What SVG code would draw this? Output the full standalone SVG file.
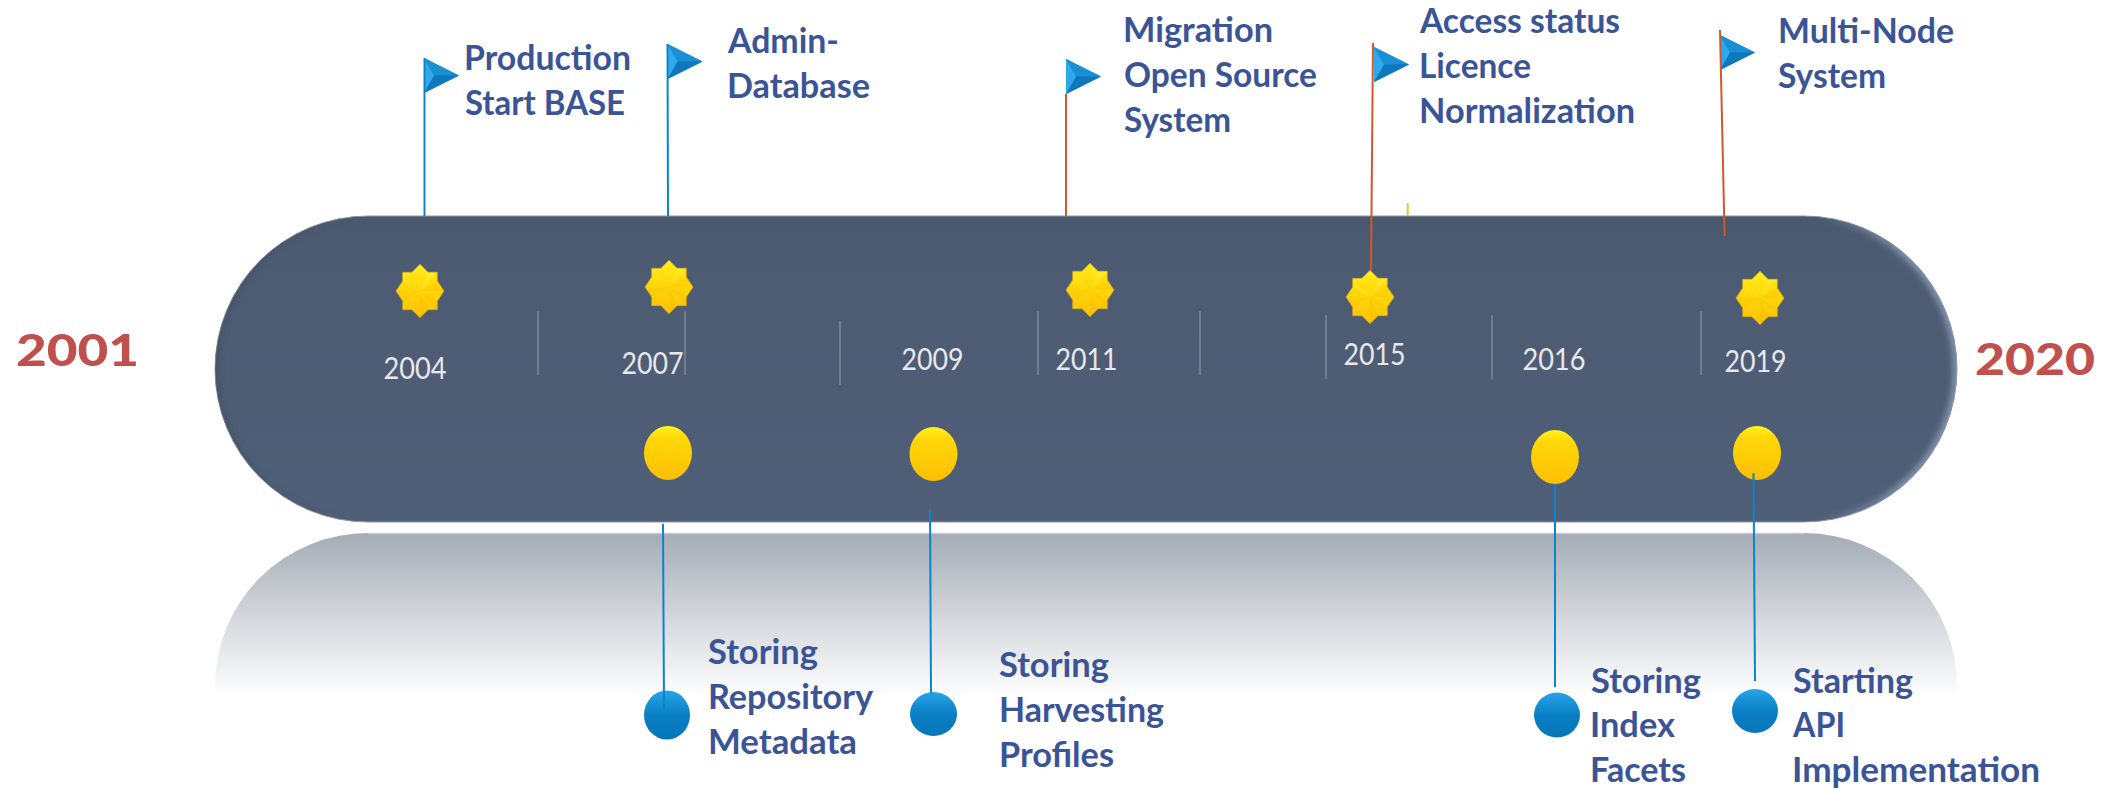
<svg xmlns="http://www.w3.org/2000/svg" width="2111" height="791" viewBox="0 0 2111 791">
<style>
.lbl{font-family:"Lato","Liberation Sans",sans-serif;font-weight:700;font-size:34px;fill:#3b5496}
.yr{font-family:"Lato","Liberation Sans",sans-serif;font-size:31px;fill:#e6e8eb}
.end{font-family:"Lato","Liberation Sans",sans-serif;font-weight:900;font-size:44px;fill:#c0504d}
.div{stroke:#7f8b9d;stroke-width:1.4;fill:none}
.blue{stroke:#0b84cc;stroke-width:2;fill:none}
.org{stroke:#d0582a;stroke-width:2;fill:none}
</style>
<defs>
<linearGradient id="pillG" x1="0" y1="0" x2="0" y2="1"><stop offset="0" stop-color="#4a586e"/><stop offset=".12" stop-color="#4d5b72"/><stop offset="1" stop-color="#4f5f77"/></linearGradient>
<linearGradient id="edgeG" gradientUnits="userSpaceOnUse" x1="215" y1="0" x2="1957" y2="0"><stop offset="0" stop-color="#3c495c" stop-opacity=".55"/><stop offset=".08" stop-color="#3c495c" stop-opacity="0"/><stop offset=".92" stop-color="#8a9bb5" stop-opacity="0"/><stop offset=".97" stop-color="#8a9bb5"/><stop offset="1" stop-color="#8a9bb5"/></linearGradient>
<filter id="soft" x="-5%" y="-5%" width="110%" height="110%"><feGaussianBlur stdDeviation="3"/></filter>
<clipPath id="pillClip"><rect x="215" y="216" width="1742" height="306" rx="153" ry="153"/></clipPath>
<linearGradient id="reflG" x1="0" y1="0" x2="0" y2="1"><stop offset="0" stop-color="#a5acb6"/><stop offset="1" stop-color="#ffffff"/></linearGradient>
<linearGradient id="ovalY" x1="0" y1="0" x2="0" y2="1"><stop offset="0" stop-color="#fff21f"/><stop offset=".22" stop-color="#ffd708"/><stop offset="1" stop-color="#fdbf04"/></linearGradient>
<linearGradient id="ovalB" x1="0" y1="0" x2="0" y2="1"><stop offset="0" stop-color="#27a5ea"/><stop offset=".5" stop-color="#0a7fc4"/><stop offset="1" stop-color="#0676b8"/></linearGradient>
<linearGradient id="starG" x1="0" y1="0" x2="0" y2="1"><stop offset="0" stop-color="#fff21f"/><stop offset=".3" stop-color="#ffdc0a"/><stop offset="1" stop-color="#fec205"/></linearGradient>
<g id="star">
<polygon points="0,-26.7 8,-18.7 17.3,-18.7 17.3,-10 24,0 17.3,10 17.3,18.7 8,18.7 0,26.7 -8,18.7 -17.3,18.7 -17.3,10 -24,0 -17.3,-10 -17.3,-18.7 -8,-18.7" fill="url(#starG)" stroke="#d2aa18" stroke-width=".7"/>
<polygon points="0,0 17.3,-18.7 8,-18.7" fill="#fff45a" opacity=".3"/>
<polygon points="0,0 -17.3,-18.7 -17.3,-10" fill="#fff45a" opacity=".2"/>
<polygon points="0,0 24,0 17.3,-10" fill="#f0aa00" opacity=".15"/>
<polygon points="0,0 0,26.7 8,18.7" fill="#f0aa00" opacity=".18"/>
<polygon points="0,0 -24,0 -17.3,10" fill="#f0aa00" opacity=".12"/>
<polygon points="0,0 17.3,18.7 17.3,10" fill="#f7b900" opacity=".2"/>
</g>
<g id="flag">
<polygon points="0,0 35,17.5 0,35" fill="#0f7fc4"/>
<polygon points="0,0 35,17.5 10,17.5" fill="#1a90d4"/>
<polygon points="0,35 35,17.5 10,17.5" fill="#0e78ba"/>
<polygon points="0,0 10,17.5 0,35" fill="#2fa8ec"/>
</g>
</defs>

<g id="reflection"><path d="M215,697 V686 A153,153 0 0 1 368,533 H1804 A153,153 0 0 1 1957,686 V697 Z" fill="url(#reflG)"/><path d="M368,533.5 H1804" stroke="#c6c9cd" stroke-width="1.5"/></g>
<g id="timeline-bar"><rect x="215" y="216" width="1742" height="306" rx="153" ry="153" fill="url(#pillG)" stroke="#8e949d" stroke-width="1"/>
<g clip-path="url(#pillClip)"><rect x="215" y="216" width="1742" height="306" rx="153" ry="153" fill="none" stroke="url(#edgeG)" stroke-width="7" filter="url(#soft)"/></g></g>

<g id="dividers">
<path class="div" d="M538,311V375M685,311V375M840,321V385M1038,311V375M1200,311V375M1326,315V379M1492,315V379M1701,311V375"/>
</g>

<g id="start-year"><text class="end" x="16" y="366" textLength="123" lengthAdjust="spacingAndGlyphs">2001</text></g>
<g id="end-year"><text class="end" x="1975" y="375" textLength="120" lengthAdjust="spacingAndGlyphs">2020</text></g>

<g id="y2004"><use href="#star" x="420" y="291"/><text class="yr" x="383.5" y="379" textLength="63" lengthAdjust="spacingAndGlyphs">2004</text></g>
<g id="y2007"><use href="#star" x="669" y="287"/><text class="yr" x="621.5" y="374" textLength="62" lengthAdjust="spacingAndGlyphs">2007</text></g>
<g id="y2009"><text class="yr" x="901.5" y="370" textLength="62" lengthAdjust="spacingAndGlyphs">2009</text></g>
<g id="y2011"><use href="#star" x="1090" y="290"/><text class="yr" x="1055.5" y="370" textLength="62" lengthAdjust="spacingAndGlyphs">2011</text></g>
<g id="y2015"><use href="#star" x="1370" y="297"/><text class="yr" x="1343.5" y="365" textLength="62" lengthAdjust="spacingAndGlyphs">2015</text></g>
<g id="y2016"><text class="yr" x="1522.5" y="370" textLength="63" lengthAdjust="spacingAndGlyphs">2016</text></g>
<g id="y2019"><use href="#star" x="1760" y="298"/><text class="yr" x="1724.5" y="372" textLength="62" lengthAdjust="spacingAndGlyphs">2019</text></g>

<g id="dot-2007"><ellipse cx="668" cy="453" rx="24" ry="27" fill="url(#ovalY)"/></g>
<g id="dot-2009"><ellipse cx="933.5" cy="454" rx="24" ry="27" fill="url(#ovalY)"/></g>
<g id="dot-2016"><ellipse cx="1555" cy="457" rx="24" ry="27" fill="url(#ovalY)"/></g>
<g id="dot-2019"><ellipse cx="1757" cy="453" rx="24" ry="27" fill="url(#ovalY)"/></g>

<g id="note-repository"><ellipse cx="667" cy="715" rx="23" ry="24.5" fill="url(#ovalB)"/>
<text class="lbl" x="708" y="664" textLength="110" lengthAdjust="spacingAndGlyphs">Storing</text><text class="lbl" x="708" y="709" textLength="165" lengthAdjust="spacingAndGlyphs">Repository</text><text class="lbl" x="708" y="754" textLength="149" lengthAdjust="spacingAndGlyphs">Metadata</text></g>
<g id="note-harvesting"><ellipse cx="933.5" cy="714" rx="23.5" ry="22" fill="url(#ovalB)"/>
<text class="lbl" x="999" y="677" textLength="110" lengthAdjust="spacingAndGlyphs">Storing</text><text class="lbl" x="999" y="722" textLength="165" lengthAdjust="spacingAndGlyphs">Harvesting</text><text class="lbl" x="999" y="767" textLength="115" lengthAdjust="spacingAndGlyphs">Profiles</text></g>
<g id="note-facets"><ellipse cx="1557" cy="715" rx="23" ry="22.5" fill="url(#ovalB)"/>
<text class="lbl" x="1591" y="693" textLength="110" lengthAdjust="spacingAndGlyphs">Storing</text><text class="lbl" x="1590" y="737" textLength="85" lengthAdjust="spacingAndGlyphs">Index</text><text class="lbl" x="1590" y="782" textLength="96" lengthAdjust="spacingAndGlyphs">Facets</text></g>
<g id="note-api"><ellipse cx="1755" cy="711" rx="23" ry="22" fill="url(#ovalB)"/>
<text class="lbl" x="1793" y="693" textLength="120" lengthAdjust="spacingAndGlyphs">Starting</text><text class="lbl" x="1793" y="737" textLength="52" lengthAdjust="spacingAndGlyphs">API</text><text class="lbl" x="1792" y="782" textLength="248" lengthAdjust="spacingAndGlyphs">Implementation</text></g>

<g id="flag-production"><use href="#flag" x="424" y="58"/>
<text class="lbl" x="464" y="70" textLength="167" lengthAdjust="spacingAndGlyphs">Production</text><text class="lbl" x="465" y="115" textLength="160" lengthAdjust="spacingAndGlyphs">Start BASE</text></g>
<g id="flag-admin"><use href="#flag" x="667.5" y="44"/>
<text class="lbl" x="728" y="53" textLength="111" lengthAdjust="spacingAndGlyphs">Admin-</text><text class="lbl" x="727" y="98" textLength="143" lengthAdjust="spacingAndGlyphs">Database</text></g>
<g id="flag-migration"><use href="#flag" x="1066" y="59"/>
<text class="lbl" x="1123" y="42" textLength="150" lengthAdjust="spacingAndGlyphs">Migration</text><text class="lbl" x="1124" y="87" textLength="193" lengthAdjust="spacingAndGlyphs">Open Source</text><text class="lbl" x="1124" y="132" textLength="107" lengthAdjust="spacingAndGlyphs">System</text></g>
<g id="flag-access"><use href="#flag" x="1374" y="47"/>
<text class="lbl" x="1420" y="33" textLength="200" lengthAdjust="spacingAndGlyphs">Access status</text><text class="lbl" x="1419" y="78" textLength="112" lengthAdjust="spacingAndGlyphs">Licence</text><text class="lbl" x="1419" y="123" textLength="216" lengthAdjust="spacingAndGlyphs">Normalization</text></g>
<g id="flag-multinode"><use href="#flag" x="1720" y="35"/>
<text class="lbl" x="1778" y="43" textLength="176" lengthAdjust="spacingAndGlyphs">Multi-Node</text><text class="lbl" x="1778" y="88" textLength="108" lengthAdjust="spacingAndGlyphs">System</text></g>

<g id="connectors">
<path class="blue" d="M424.5,58V216"/>
<path class="blue" d="M667.5,44L668,216"/>
<path class="org" d="M1066,94V216"/>
<path class="org" d="M1373,43L1371,270"/>
<path class="org" d="M1720,30L1724.6,236"/>
<path d="M1407.7,203V216" stroke="#f5c02a" stroke-width="2" fill="none"/>
<path class="blue" d="M663,524L664,710"/>
<path class="blue" d="M930,509L931,693"/>
<path class="blue" d="M1555,484V687"/>
<path class="blue" d="M1753.5,473L1755,681"/>
</g>
</svg>
